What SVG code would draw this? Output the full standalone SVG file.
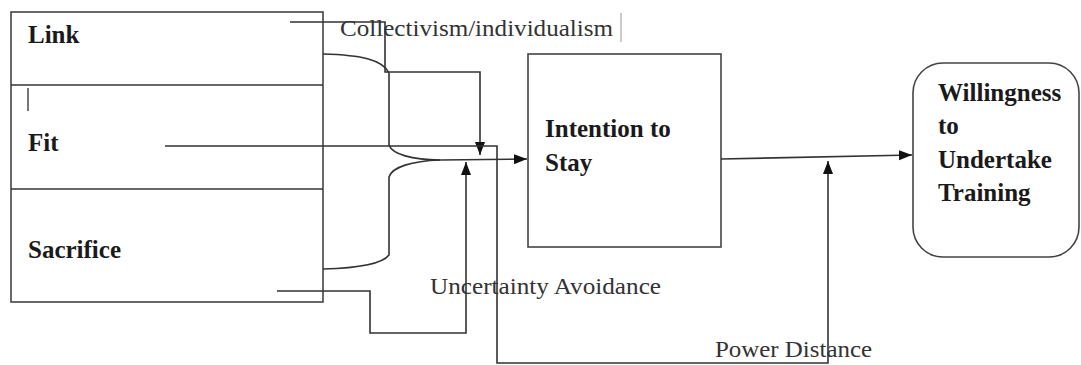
<svg xmlns="http://www.w3.org/2000/svg" width="1081" height="365" viewBox="0 0 1081 365">
<style>
.box{fill:#fff;stroke:#444;stroke-width:1.6}
.ln{fill:none;stroke:#333;stroke-width:1.6}
.lbl{font-family:"Liberation Serif","Times New Roman",serif;font-weight:bold;font-size:25px;fill:#1a1a1a}
.mod{font-family:"Liberation Serif","Times New Roman",serif;font-size:24px;fill:#333}
</style>
<defs>
<marker id="ah" markerUnits="userSpaceOnUse" markerWidth="14" markerHeight="12" refX="13" refY="5" orient="auto">
<path d="M0,0 L13,5 L0,10 z" fill="#111"/>
</marker>
</defs>
<rect width="1081" height="365" fill="#fff"/>
<g id="retention-factors">
<rect class="box" x="11" y="12" width="312" height="290"/>
<line class="ln" x1="11" y1="85" x2="323" y2="85"/>
<line class="ln" x1="11" y1="189" x2="323" y2="189"/>
<line x1="28" y1="88" x2="28" y2="111" stroke="#777" stroke-width="2"/>
</g>
<g id="link"><text class="lbl" x="28" y="43">Link</text></g>
<g id="fit"><text class="lbl" x="28" y="151">Fit</text></g>
<g id="sacrifice"><text class="lbl" x="28" y="258">Sacrifice</text></g>
<g id="intention">
<rect class="box" x="528" y="54" width="193" height="193"/>
<text class="lbl" x="545" y="137">Intention to</text>
<text class="lbl" x="545" y="171">Stay</text>
</g>
<g id="willingness">
<rect class="box" x="913" y="63" width="166" height="194" rx="30" ry="30"/>
<text class="lbl" x="938" y="101">Willingness</text>
<text class="lbl" x="938" y="134">to</text>
<text class="lbl" x="938" y="168">Undertake</text>
<text class="lbl" x="938" y="201">Training</text>
</g>
<g id="connectors">
<path class="ln" d="M323,54 C362,55 383,60 389,73 L389,145 C392,154 412,160 440,160"/>
<path class="ln" d="M440,160 C412,161 392,167 389,177 L389,255 C383,263 362,268 323,269"/>
<path class="ln" d="M440,160 L527,159" marker-end="url(#ah)"/>
<path class="ln" d="M290,22 L385,22 L385,72 L480,72 L480,155" marker-end="url(#ah)"/>
<path class="ln" d="M165,146 L497,146 L497,363 L828,363 L828,161" marker-end="url(#ah)"/>
<path class="ln" d="M277,291 L370,291 L370,333 L466,333 L466,162" marker-end="url(#ah)"/>
<path class="ln" d="M721,159 L912,155" marker-end="url(#ah)"/>
</g>
<g id="moderators">
<text class="mod" x="340" y="36" textLength="273" lengthAdjust="spacingAndGlyphs">Collectivism/individualism</text>
<line x1="621" y1="13" x2="621" y2="42" stroke="#999" stroke-width="1"/>
<text class="mod" x="430" y="294" textLength="231" lengthAdjust="spacingAndGlyphs">Uncertainty Avoidance</text>
<text class="mod" x="715" y="357" textLength="157" lengthAdjust="spacingAndGlyphs">Power Distance</text>
</g>
</svg>
